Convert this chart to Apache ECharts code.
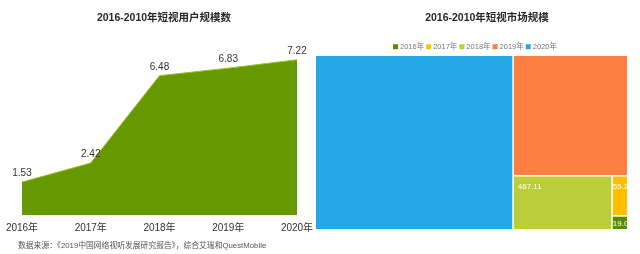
<!DOCTYPE html>
<html><head><meta charset="utf-8">
<script src="https://cdn.jsdelivr.net/npm/echarts@6/dist/echarts.min.js"></script>
<style>html,body{margin:0;padding:0;background:#fff}#c{width:640px;height:254px}</style>
</head><body><div id="c"></div>
<script>
const years = ['2016年','2017年','2018年','2019年','2020年'];
const userScale = [1.53, 2.42, 6.48, 6.83, 7.22];
const marketScale = [19.0, 55.2, 467.11, 1210, 3020];
const marketLabels = ['19.0', '55.2', '467.11', '', ''];
const marketColors = ['#5b8a00', '#ffbf00', '#bccd3a', '#ff7f43', '#23a8e6'];
const FONT = '"Liberation Sans","Noto Sans CJK SC",sans-serif';

const chart = echarts.init(document.getElementById('c'));
const labelPads = [[3,0,0,0],[6,0,0,0],[6,4,0,4],[5,5],[5,5]];
const treeData = years.map((y,i)=>({
  name: y, value: marketScale[i],
  itemStyle:{color: marketColors[i]},
  label:{show: marketLabels[i] !== '', formatter: marketLabels[i] || ' ', padding: labelPads[i]}
}));
const dummy = years.map((y,i)=>({name:y, type:'line', data:[], xAxisIndex:0, yAxisIndex:0, color: marketColors[i], itemStyle:{color:marketColors[i]}}));

chart.setOption({
  animation:false,
  textStyle:{fontFamily:FONT},
  title:[
    {text:'2016-2010年短视用户规模数', left:159, top:8, textAlign:'center', textStyle:{fontSize:10.5, fontWeight:'bold', color:'#2a2a2a', fontFamily:FONT}},
    {text:'2016-2010年短视市场规模', left:482, top:8, textAlign:'center', textStyle:{fontSize:10.5, fontWeight:'bold', color:'#2a2a2a', fontFamily:FONT}}
  ],
  legend:{data:years, left:388, top:38, icon:'rect', itemWidth:5, itemHeight:5, itemGap:2,
    textStyle:{fontSize:7.5, color:'#777', padding:[0,0,0,-3]}, selectedMode:false},
  grid:[{left:22, width:275, top:43, bottom:39}],
  xAxis:[{type:'category', data:years, boundaryGap:false, axisLine:{show:false}, axisTick:{show:false},
    axisLabel:{fontSize:10, color:'#333', margin:8}, splitLine:{show:false}}],
  yAxis:[{type:'value', min:0, max:8, show:false, splitLine:{show:false}}],
  series:[
    {name:'用户规模', type:'line', data:userScale, symbol:'circle', symbolSize:1, showSymbol:true,
      itemStyle:{color:'rgba(0,0,0,0)'}, lineStyle:{color:'#9cbf1a', width:1},
      areaStyle:{color:'#669900', opacity:1},
      label:{show:true, position:'top', fontSize:10, color:'#333', distance:3}},
    ...dummy,
    {type:'treemap', left:316, top:56, width:311, height:173, roam:false, nodeClick:false,
      breadcrumb:{show:false}, data:treeData,
      label:{show:true, position:'insideTopLeft', fontSize:8, color:'#fff', overflow:'none'},
      levels:[{itemStyle:{gapWidth:1.5, borderWidth:0, borderColor:'#fff'}}],
      itemStyle:{borderWidth:0}
    }
  ],
  graphic:[
    {type:'text', left:18, top:242, style:{text:'数据来源：《2019中国网络视听发展研究报告》，综合艾瑞和QuestMobile', fontSize:7.8, fill:'#555', fontFamily:FONT}}
  ]
});
</script></body></html>
